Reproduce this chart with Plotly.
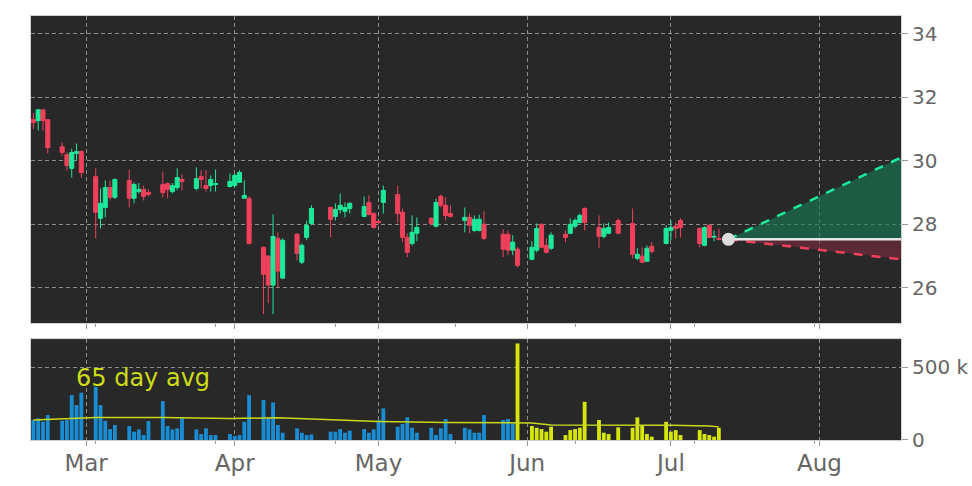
import pandas as pd
import plotly.graph_objects as go

# ---------------- data ----------------
holidays = ["2025-04-18", "2025-05-26", "2025-06-19", "2025-07-04"]
dates = [d.strftime("%Y-%m-%d") for d in pd.bdate_range("2025-02-18", "2025-07-11")
         if d.strftime("%Y-%m-%d") not in holidays]

opens = [31.3, 31.26, 31.6, 31.29, 30.44, 30.19, 29.76, 30.23, 30.29,
         29.5, 28.19, 28.53, 29.16, 28.85,
         29.38, 28.82, 29.03, 29.1, 29.0,
         29.25, 29.28, 29.03, 29.16, 29.41,
         29.13, 29.5, 29.22, 29.22, 29.25,
         29.19, 29.22, 29.32, 28.82, 28.82,
         27.28, 27.0, 26.09, 27.56, 26.31,
         27.69, 26.81, 27.59, 28.03,
         28.53, 28.25, 28.47, 28.41, 28.5,
         28.25, 28.69, 28.34, 28.09, 28.69,
         28.94, 28.38, 27.59, 27.4, 27.72,
         28.19, 27.94, 28.88, 28.6, 28.34,
         28.12, 28.22, 27.81, 27.81, 28.0,
         27.69, 27.69, 27.19, 27.22,
         26.9, 27.19, 28.0, 27.34, 27.25,
         27.69, 27.72, 27.94, 28.06, 28.5,
         27.9, 27.62, 27.72, 28.12,
         28.03, 26.93, 27.0, 26.84, 27.31,
         27.4, 27.81, 27.94, 28.12,
         27.87, 27.34, 27.97, 27.6, 27.56]
closes = [31.2, 31.6, 31.26, 30.41, 30.26, 29.85, 30.26, 30.29, 29.63,
          28.38, 28.66, 29.16, 28.85, 29.41,
          28.82, 29.25, 29.1, 28.88, 28.94,
          29.0, 29.1, 29.22, 29.47, 29.35,
          29.44, 29.41, 29.13, 29.41, 29.28,
          29.35, 29.54, 29.63, 28.91, 27.4,
          26.43, 26.09, 27.62, 26.53, 27.5,
          27.09, 27.34, 27.97, 28.5,
          28.16, 28.47, 28.6, 28.53, 28.66,
          28.56, 28.31, 27.9, 28.06, 29.07,
          28.34, 27.59, 27.12, 27.75, 27.9,
          28.03, 28.69, 28.6, 28.28, 28.25,
          28.22, 27.97, 28.16, 28.16, 27.56,
          27.22, 27.19, 27.44, 26.71,
          27.28, 27.87, 27.28, 27.12, 27.66,
          27.59, 28.0, 28.12, 28.28, 28.06,
          27.62, 27.87, 27.9, 27.72,
          27.06, 27.06, 26.81, 27.25, 27.15,
          27.87, 27.9, 27.87, 27.9,
          27.4, 27.9, 27.59, 27.62, 27.53]
highs = [31.5, 31.62, 31.62, 31.3, 30.57, 30.26, 30.38, 30.54, 30.32,
         29.76, 29.13, 29.38, 29.38, 29.45,
         29.72, 29.32, 29.3, 29.22, 29.1,
         29.66, 29.32, 29.3, 29.76, 29.57,
         29.79, 29.7, 29.7, 29.54, 29.72,
         29.6, 29.6, 29.7, 29.38, 28.88,
         27.3, 27.03, 28.31, 27.75, 27.56,
         27.72, 27.4, 28.12, 28.6,
         28.56, 28.66, 28.97, 28.69, 28.69,
         28.88, 28.91, 28.38, 28.12, 29.22,
         29.22, 28.5, 27.72, 28.28, 28.22,
         28.22, 28.81, 28.94, 28.85, 28.6,
         28.53, 28.34, 28.28, 28.3, 28.41,
         27.84, 27.81, 27.66, 27.28,
         27.47, 28.03, 28.03, 27.56, 27.75,
         27.81, 28.19, 28.19, 28.34, 28.53,
         28.28, 28.03, 28.06, 28.19,
         28.5, 27.25, 27.28, 27.34, 27.44,
         27.97, 28.12, 28.06, 28.19,
         27.9, 27.94, 28.0, 27.81, 27.87]
lows = [31.0, 30.95, 30.95, 30.23, 30.16, 29.69, 29.47, 30.0, 29.47,
        27.56, 27.87, 28.22, 28.75, 28.8,
        28.53, 28.66, 28.97, 28.75, 28.88,
        28.85, 28.82, 28.97, 29.07, 29.07,
        29.07, 29.13, 29.03, 29.03, 29.03,
        29.16, 29.16, 29.3, 28.82, 27.37,
        25.18, 25.52, 25.18, 26.0, 26.28,
        26.87, 26.75, 27.5, 27.97,
        27.6, 28.12, 28.34, 28.22, 28.34,
        28.22, 28.28, 27.87, 28.0, 28.34,
        28.03, 27.44, 26.97, 27.34, 27.47,
        27.97, 27.9, 28.53, 28.12, 28.22,
        27.75, 27.72, 27.75, 27.78, 27.5,
        26.97, 27.03, 27.03, 26.65,
        26.87, 27.12, 27.25, 27.09, 27.19,
        27.44, 27.69, 27.87, 28.03, 27.81,
        27.25, 27.56, 27.69, 27.69,
        26.93, 26.87, 26.78, 26.81, 27.09,
        27.37, 27.5, 27.56, 27.59,
        27.28, 27.31, 27.56, 27.47, 27.5]
volumes_k = [137, 148, 126, 171, 132, 137, 308, 240, 324,
             365, 240, 132, 75, 103,
             96, 57, 73, 34, 130,
             267, 96, 73, 80, 149,
             73, 41, 80, 34, 34,
             41, 27, 34, 125, 308,
             274, 155, 258, 103, 50,
             80, 50, 34, 38,
             57, 57, 75, 50, 64,
             75, 50, 73, 135, 217,
             91, 110, 155, 84, 50,
             84, 34, 80, 144, 41,
             84, 73, 50, 50, 171,
             137, 144, 114, 662,
             96, 84, 75, 57, 91,
             34, 68, 75, 84, 262,
             137, 50, 41, 87,
             84, 155, 96, 41, 23,
             125, 57, 68, 34,
             68, 41, 34, 23, 84]
recent_start = "2025-05-30"   # volume bars from this date on are highlighted

avg_dates = ["2025-02-18", "2025-02-28", "2025-03-03", "2025-03-17", "2025-03-31",
             "2025-04-10", "2025-04-21", "2025-05-01", "2025-05-15", "2025-05-29",
             "2025-06-02", "2025-06-06", "2025-06-20", "2025-07-01", "2025-07-09",
             "2025-07-11"]
avg_vals_k = [137, 150, 155, 155, 148, 152, 140, 127, 120, 117, 117, 103, 103, 102, 96, 90]

fc_dates = ["2025-07-13", "2025-08-18"]
fc_base = [27.53, 27.53]
fc_high = [27.53, 30.1]
fc_low = [27.53, 26.9]

month_ticks = ["2025-03-01", "2025-04-01", "2025-05-01", "2025-06-01", "2025-07-01", "2025-08-01"]
month_labels = ["Mar", "Apr", "May", "Jun", "Jul", "Aug"]
minor_ticks = ["2025-03-03", "2025-03-28", "2025-04-22", "2025-05-17", "2025-06-11",
               "2025-07-06", "2025-07-31"]
price_ticks = [26, 28, 30, 32, 34]
vol_ticks = [0, 500000]
vol_labels = ["0", "500 k"]

# ---------------- styles ----------------
GREEN = "#1de99a"
RED = "#f0405c"
BLUE = "#1a8cd2"
YELLOW = "#d7e60a"
AVG = "#c8d81a"
BG = "#282828"
GRID = "rgba(175,175,175,0.75)"
TXT = "#666666"
FONT = "DejaVu Sans"

volumes = [v * 1000 for v in volumes_k]
avg_vals = [v * 1000 for v in avg_vals_k]
vol_colors = [YELLOW if d >= recent_start else BLUE for d in dates]

fig = go.Figure()

fig.add_trace(go.Candlestick(
    x=dates, open=opens, high=highs, low=lows, close=closes,
    xaxis="x", yaxis="y", whiskerwidth=0,
    increasing=dict(line=dict(color=GREEN, width=1), fillcolor=GREEN),
    decreasing=dict(line=dict(color=RED, width=1), fillcolor=RED),
    hoverinfo="skip", showlegend=False))

# forecast cone
fig.add_trace(go.Scatter(x=fc_dates, y=fc_base, mode="lines", line=dict(width=0),
                         xaxis="x", yaxis="y", showlegend=False, hoverinfo="skip"))
fig.add_trace(go.Scatter(x=fc_dates, y=fc_high, mode="lines", fill="tonexty",
                         fillcolor="rgba(25,123,87,0.62)",
                         line=dict(color=GREEN, width=2.5, dash="dash"),
                         xaxis="x", yaxis="y", showlegend=False, hoverinfo="skip"))
fig.add_trace(go.Scatter(x=fc_dates, y=fc_base, mode="lines", line=dict(width=0),
                         xaxis="x", yaxis="y", showlegend=False, hoverinfo="skip"))
fig.add_trace(go.Scatter(x=fc_dates, y=fc_low, mode="lines", fill="tonexty",
                         fillcolor="rgba(125,43,64,0.6)",
                         line=dict(color=RED, width=2.5, dash="dash"),
                         xaxis="x", yaxis="y", showlegend=False, hoverinfo="skip"))
fig.add_trace(go.Scatter(x=fc_dates, y=fc_base, mode="lines",
                         line=dict(color="#e6e6e6", width=2.5),
                         xaxis="x", yaxis="y", showlegend=False, hoverinfo="skip"))
fig.add_trace(go.Scatter(x=fc_dates[:1], y=fc_base[:1], mode="markers",
                         marker=dict(color="#dcdcdc", size=13),
                         xaxis="x", yaxis="y", showlegend=False, hoverinfo="skip"))

# volume
fig.add_trace(go.Bar(x=dates, y=volumes, marker=dict(color=vol_colors, line=dict(width=0)),
                     width=0.8 * 86400000, xaxis="x2", yaxis="y2",
                     showlegend=False, hoverinfo="skip"))
fig.add_trace(go.Scatter(x=avg_dates, y=avg_vals, mode="lines",
                         line=dict(color=AVG, width=1.5), xaxis="x2", yaxis="y2",
                         showlegend=False, hoverinfo="skip"))

xrange = ["2025-02-17 12:00", "2025-08-18"]
common_x = dict(
    type="date", range=xrange, tickmode="array", tickvals=month_ticks,
    showgrid=True, gridcolor=GRID, griddash="4px,3px", gridwidth=1,
    ticks="outside", ticklen=5, tickcolor="#999", tickwidth=1,
    minor=dict(tickmode="array", tickvals=minor_ticks, ticks="outside", ticklen=3,
               tickcolor="#999", showgrid=False),
    showline=True, linecolor="#cfcfcf", linewidth=1, mirror=True,
    zeroline=False, fixedrange=True,
)

fig.update_layout(
    width=972, height=486,
    margin=dict(l=31, r=71, t=16, b=46, autoexpand=False),
    paper_bgcolor="white", plot_bgcolor=BG,
    boxgap=0.15, boxgroupgap=0,
    font=dict(family=FONT, color=TXT),
    xaxis=dict(common_x, domain=[0, 1], anchor="y", showticklabels=False,
               rangeslider=dict(visible=False)),
    xaxis2=dict(common_x, domain=[0, 1], anchor="y2", matches="x",
                ticktext=month_labels, tickfont=dict(size=23, color=TXT),
                ticklabelstandoff=-3),
    yaxis=dict(domain=[0.276, 1], anchor="x", side="right", range=[24.9, 34.55],
               tickmode="array", tickvals=price_ticks, showgrid=True,
               gridcolor=GRID, griddash="4px,3px", ticks="outside", ticklen=6,
               tickcolor="#999", tickfont=dict(size=20, color=TXT),
               showline=True, linecolor="#cfcfcf", mirror=True, zeroline=False),
    yaxis2=dict(domain=[0, 0.238], anchor="x2", side="right", range=[0, 692000],
                tickmode="array", tickvals=vol_ticks, ticktext=vol_labels,
                showgrid=True, gridcolor=GRID, griddash="4px,3px", ticks="outside",
                ticklen=6, tickcolor="#999", tickfont=dict(size=20, color=TXT),
                showline=True, linecolor="#cfcfcf", mirror=True, zeroline=False),
    annotations=[dict(text="65 day avg", xref="paper", yref="y2", x=0.049, y=425000,
                      xanchor="left", yanchor="middle", showarrow=False,
                      font=dict(size=24, color="#ccdc14", family=FONT))],
)

fig.write_html("out.html", config={"displayModeBar": False},
               post_script="document.body.style.margin='0';document.body.style.padding='0';")
